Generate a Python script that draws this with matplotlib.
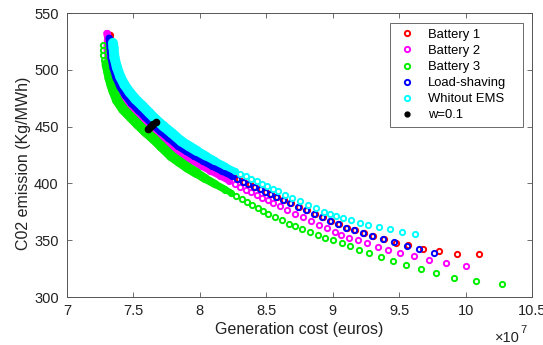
import numpy as np
import matplotlib
matplotlib.use("Agg")
import matplotlib.pyplot as plt
from matplotlib.lines import Line2D
from matplotlib.collections import LineCollection

plt.rcParams["font.family"] = ["Liberation Sans", "DejaVu Sans"]

# generation cost in units of 1e7 euros, emission in Kg/MWh
bat1_cost = [7.324, 7.326, 7.332, 7.339, 7.354, 7.377, 7.407, 7.444, 7.490, 7.542,
             7.595, 7.648, 7.708, 7.768, 7.843, 7.903, 7.964, 8.031, 8.099, 8.174,
             8.250, 8.291, 8.332, 8.374, 8.415, 8.460, 8.498, 8.539, 8.581, 8.634,
             8.686, 8.746, 8.806, 8.866, 8.927, 8.987, 9.047, 9.107, 9.168, 9.233,
             9.305, 9.388, 9.473, 9.568, 9.676, 9.800, 9.934, 10.102]
bat1_co2 = [530.6, 526.0, 519.1, 510.3, 501.5, 492.7, 484.7, 477.7, 470.6, 464.5,
            458.3, 452.1, 445.9, 440.2, 432.7, 428.3, 423.9, 419.5, 415.1, 410.7,
            406.3, 404.0, 401.6, 399.3, 397.0, 394.8, 392.6, 390.4, 388.2, 385.4,
            382.5, 379.4, 376.3, 373.2, 370.1, 367.0, 363.9, 361.0, 358.7, 356.0,
            353.4, 350.7, 347.8, 345.4, 342.5, 340.4, 338.0, 338.1]

bat2_cost = [7.298, 7.305, 7.303, 7.301, 7.309, 7.321, 7.340, 7.369, 7.406, 7.452,
             7.508, 7.561, 7.615, 7.676, 7.737, 7.814, 7.875, 7.937, 8.005, 8.074,
             8.149, 8.223, 8.264, 8.305, 8.346, 8.388, 8.428, 8.469, 8.511, 8.551,
             8.603, 8.656, 8.716, 8.776, 8.835, 8.895, 8.956, 9.016, 9.060, 9.124,
             9.190, 9.260, 9.338, 9.418, 9.506, 9.613, 9.726, 9.849, 10.000]
bat2_co2 = [532.1, 528.8, 524.0, 518.9, 510.0, 500.8, 491.5, 483.0, 475.2, 467.9,
            461.3, 455.1, 448.8, 442.5, 436.8, 429.1, 424.6, 420.1, 415.6, 411.2,
            406.7, 402.0, 399.4, 396.8, 394.5, 392.2, 389.6, 387.4, 385.2, 382.5,
            379.7, 376.8, 373.3, 370.2, 366.7, 363.6, 360.5, 357.4, 354.6, 352.2,
            349.8, 347.5, 344.3, 341.6, 338.6, 335.7, 332.8, 330.2, 327.5]

bat3_cost = [7.269, 7.271, 7.273, 7.276, 7.297, 7.309, 7.320, 7.335, 7.350, 7.377,
             7.423, 7.481, 7.533, 7.591, 7.653, 7.709, 7.784, 7.844, 7.906, 7.974,
             8.041, 8.116, 8.191, 8.232, 8.274, 8.314, 8.354, 8.395, 8.435, 8.474,
             8.515, 8.565, 8.618, 8.670, 8.716, 8.771, 8.828, 8.886, 8.941, 9.004,
             9.067, 9.129, 9.199, 9.275, 9.363, 9.455, 9.551, 9.663, 9.774, 9.914,
             10.077, 10.273]
bat3_co2 = [521.8, 517.4, 513.0, 508.6, 505.0, 498.9, 492.7, 486.5, 481.2, 473.1,
            465.2, 458.2, 452.0, 445.4, 439.1, 432.6, 424.1, 419.1, 414.0, 409.2,
            404.2, 399.3, 394.5, 391.9, 389.2, 386.6, 383.9, 381.1, 378.6, 375.9,
            373.4, 370.5, 367.5, 364.6, 362.2, 359.5, 357.2, 354.5, 352.2, 349.8,
            347.2, 344.5, 341.3, 338.6, 335.1, 331.9, 328.4, 324.5, 321.0, 316.9,
            313.7, 311.3]

shave_cost = [7.316, 7.324, 7.331, 7.346, 7.369, 7.399, 7.436, 7.482, 7.534, 7.587,
              7.640, 7.700, 7.760, 7.835, 7.895, 7.956, 8.023, 8.091, 8.166, 8.242,
              8.283, 8.324, 8.366, 8.407, 8.452, 8.490, 8.531, 8.573, 8.626, 8.678,
              8.738, 8.798, 8.858, 8.919, 8.979, 9.039, 9.099, 9.160, 9.225, 9.297,
              9.380, 9.463, 9.556, 9.651, 9.761]
shave_co2 = [528.0, 519.1, 510.3, 501.5, 492.7, 484.7, 477.7, 470.6, 464.5, 458.3,
             452.1, 445.9, 440.2, 432.7, 428.3, 423.9, 419.5, 415.1, 410.7, 406.3,
             404.0, 401.6, 399.3, 397.0, 394.8, 392.6, 390.4, 388.2, 385.4, 382.5,
             379.4, 376.3, 373.2, 370.1, 367.0, 363.9, 361.0, 358.7, 356.0, 353.4,
             350.7, 348.1, 344.8, 342.2, 339.0]

noems_cost = [7.346, 7.350, 7.357, 7.375, 7.401, 7.433, 7.471, 7.517, 7.567, 7.619,
              7.669, 7.728, 7.788, 7.861, 7.919, 7.979, 8.045, 8.112, 8.187, 8.262,
              8.303, 8.344, 8.385, 8.427, 8.467, 8.509, 8.550, 8.591, 8.644, 8.696,
              8.756, 8.816, 8.876, 8.936, 8.980, 9.024, 9.079, 9.135, 9.205, 9.267,
              9.350, 9.430, 9.521, 9.618]
noems_co2 = [523.7, 519.4, 510.8, 502.4, 493.9, 486.7, 480.3, 473.9, 468.3, 462.1,
             456.2, 450.1, 444.4, 437.0, 432.7, 428.5, 424.1, 419.8, 415.3, 410.9,
             408.6, 406.4, 404.1, 401.8, 399.7, 397.4, 395.2, 393.0, 390.2, 387.3,
             384.2, 381.1, 378.0, 375.0, 373.3, 371.5, 369.8, 368.0, 365.4, 363.7,
             361.9, 359.8, 357.5, 355.4]

w01_cost = [7.613, 7.627, 7.640, 7.649, 7.670]
w01_co2 = [448.1, 449.7, 451.2, 452.3, 454.3]

# label, x, y, colour, band width (pt), cost range where the rings merge into a band
series = [
    ("Battery 1", bat1_cost, bat1_co2, "#ff0000", 5.0, (7.0, 8.26)),
    ("Battery 2", bat2_cost, bat2_co2, "#ff00ff", 5.0, (7.0, 8.24)),
    ("Battery 3", bat3_cost, bat3_co2, "#00ee00", 7.2, (7.29, 8.24)),
    ("Load-shaving", shave_cost, shave_co2, "#0000ff", 5.0, (7.0, 8.26)),
    ("Whitout EMS", noems_cost, noems_co2, "#00ffff", 7.2, (7.0, 8.28)),
]

MS, MEW = 3.8, 1.4
RING = MS + MEW

fig = plt.figure(figsize=(5.43, 3.45), dpi=100)
ax = fig.add_axes([0.1234, 0.1391, 0.8564, 0.8232])

handles = []
z = 2
for label, xs, ys, col, bw, (x0, x1) in series:
    pts = np.array([(x, y) for x, y in zip(xs, ys) if x0 <= x <= x1])
    segs = np.stack([pts[:-1], pts[1:]], axis=1)
    widths = np.full(len(segs), bw)
    k = min(5, len(segs))
    widths[-k:] = np.linspace(bw, RING * 0.9, k)
    lc = LineCollection(segs, colors=col, linewidths=widths, zorder=z)
    lc.set_capstyle("round")
    lc.set_joinstyle("round")
    ax.add_collection(lc)
    ax.plot(xs, ys, ls="none", marker="o", mfc="none", mec=col,
            ms=MS, mew=MEW, zorder=z + 0.5)
    handles.append(Line2D([], [], ls="none", marker="o", mfc="none",
                          mec=col, ms=MS, mew=MEW, label=label))
    z += 1

ax.plot(w01_cost, w01_co2, ls="none", marker="o", color="black",
        ms=4.5, zorder=z)
handles.append(Line2D([], [], ls="none", marker="o", color="black",
                      ms=3.5, label="w=0.1"))

ax.set_xlim(7, 10.5)
ax.set_ylim(300, 550)
ax.set_xticks([7, 7.5, 8, 8.5, 9, 9.5, 10, 10.5])
ax.set_xticklabels(["7", "7.5", "8", "8.5", "9", "9.5", "10", "10.5"])
ax.set_yticks([300, 350, 400, 450, 500, 550])

for sp in ax.spines.values():
    sp.set_color("#555555")
    sp.set_linewidth(0.7)
ax.tick_params(direction="in", top=True, right=True, length=3.5, width=0.6,
               color="#555555", labelcolor="#222222", labelsize=10.5)
ax.tick_params(axis="x", pad=5)
ax.tick_params(axis="y", pad=6)

ax.set_xlabel("Generation cost (euros)", fontsize=11.5, color="#222222", labelpad=3)
ax.set_ylabel("C02 emission (Kg/MWh)", fontsize=11.5, color="#222222")
ax.yaxis.set_label_coords(-0.078, 0.47)

ax.text(0.974, -0.158, "\u00d710", transform=ax.transAxes, ha="right",
        va="baseline", fontsize=10.5, color="#222222")
ax.text(0.976, -0.128, "7", transform=ax.transAxes, ha="left",
        va="baseline", fontsize=8, color="#222222")

leg = ax.legend(handles=handles, loc="upper left",
                bbox_to_anchor=(0.695, 0.592, 0.286, 0.373), mode="expand",
                borderaxespad=0, fontsize=9.4, frameon=True, fancybox=False,
                handlelength=1.75, handletextpad=0.7, labelspacing=0.3,
                borderpad=0.45)
leg.get_frame().set_edgecolor("#444444")
leg.get_frame().set_linewidth(0.7)
leg.set_zorder(10)

fig.savefig("out.png", dpi=100)
